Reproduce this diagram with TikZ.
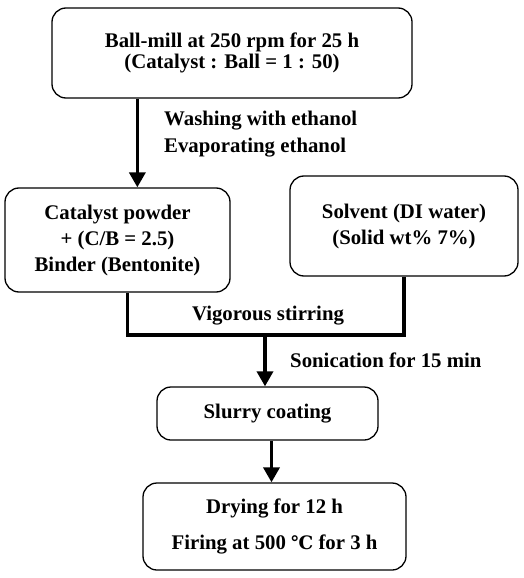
\documentclass[tikz,border=0pt]{standalone}
\usepackage{fontspec}
\setmainfont{Liberation Serif}
\newfontfamily\degfont{DejaVu Serif}
\usetikzlibrary{arrows.meta,positioning,calc}

\begin{document}
\begin{tikzpicture}[
        x=1pt, y=-1pt,
        box/.style={draw, line width=1.3pt, rounded corners=14pt, align=center,
            inner sep=0pt, font=\fontsize{20.8}{26}\selectfont\bfseries},
        note/.style={font=\fontsize{20.8}{26}\selectfont\bfseries, inner sep=0pt},
        flow/.style={line width=3.5pt, -{Triangle[length=15pt, width=16pt]}},
        link/.style={line width=3.5pt},
    ]
        \useasboundingbox (0,0) rectangle (523,578);

        % Boxes
        \node[box, minimum width=360, minimum height=90] (mill) at (232,53)
            {Ball-mill at 250 rpm for 25 h\\[-5pt](Catalyst : Ball = 1 : 50)};
        \node[box, minimum width=225, minimum height=104] (powder) at (117.5,240)
            {Catalyst powder\\+ (C/B = 2.5)\\Binder (Bentonite)};
        \node[box, minimum width=228, minimum height=100] (solvent) at (404,226)
            {Solvent (DI water)\\(Solid wt\% 7\%)};
        \node[box, minimum width=221, minimum height=53] (slurry) at (267.5,413.5)
            {Slurry coating};
        \node[box, minimum width=263, minimum height=87] (drying) at (274.5,526.5)
            {Drying for 12 h\\[10pt]Firing at 500 {\degfont\fontsize{18.5}{20}\selectfont ℃} for 3 h};

        % Connectors
        \coordinate (drop) at ($(mill.south west)+(86,0)$);
        \coordinate (mix) at (265,335);
        \draw[flow] (drop) -- (drop |- powder.north);
        \draw[link, line join=miter] ([xshift=10pt]powder.south) |- (mix) -| (solvent.south);
        \draw[flow] ([yshift=1.75pt]mix) -- (mix |- slurry.north);
        \draw[flow] ([xshift=4pt]slurry.south) -- ([xshift=4pt]slurry.south |- drying.north);

        % Labels
        \node[note, anchor=west] (wash) at (164,121) {Washing with ethanol};
        \node[note, anchor=west] (evap) at (164,148) {Evaporating ethanol};
        \node[note] (stir) at (268,316) {Vigorous stirring};
        \node[note, anchor=west] (sonic) at (290,360) {Sonication for 15 min};
    \end{tikzpicture}
\end{document}
